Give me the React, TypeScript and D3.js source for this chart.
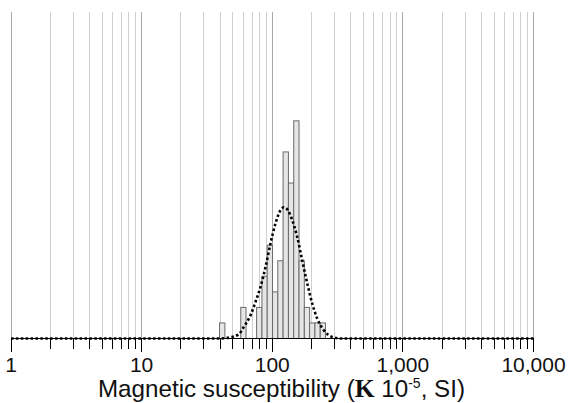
import React from "react";
import * as d3 from "d3";

// Histogram bins (bin edges in κ 10^-5 SI) and counts
const binEdges = [39.5, 43.4, 47.6, 52.3, 57.4, 63.0, 69.2, 75.9, 83.4, 91.5, 100.5, 110.3, 121.1, 133.0, 146.0, 160.3, 176.0, 193.2, 212.2, 232.9, 255.7];
const binCounts = [1, 0, 0, 0, 2, 0, 0, 2, 4, 6, 3, 5, 12, 10, 14, 5, 2, 1, 1, 1];

// Fitted (log-normal) curve
const curveX = [1, 40, 48, 55.5, 60.6, 68.2, 74.5, 81.3, 88.9, 97.0, 105.9, 115.9, 122.7, 131.5, 142.2, 155.2, 169.4, 185.4, 202.3, 220.8, 248.3, 287.7, 331, 10000];
const curveY = [0, 0, 0.08, 0.28, 0.75, 1.5, 2.36, 3.32, 4.61, 6.12, 7.4, 8.26, 8.44, 8.26, 7.62, 6.54, 5.04, 3.54, 2.25, 1.29, 0.53, 0.1, 0, 0];

const majorTicks = [1, 10, 100, 1000, 10000];
const tickLabels = ["1", "10", "100", "1,000", "10,000"];
const minorMultipliers = [2, 3, 4, 5, 6, 7, 8, 9];

const W = 572;
const H = 403;
const left = 11;
const right = 533.5;
const top = 12;
const bottom = 338.5;

export default function App() {
  const x = d3.scaleLog().domain([1, 10000]).range([left, right]);
  const y = d3.scaleLinear().domain([0, 21]).range([bottom, top]);

  const minors: number[] = [];
  majorTicks.slice(0, -1).forEach((m) => minorMultipliers.forEach((k) => minors.push(m * k)));

  const line = d3
    .line<number>()
    .x((_, i) => x(curveX[i]))
    .y((d) => y(d))
    .curve(d3.curveMonotoneX);

  const titleX = 281.5;

  return (
    <svg
      width={W}
      height={H}
      style={{ position: "absolute", left: 0, top: 0, background: "#fff" }}
      fontFamily="'Liberation Sans', Arial, sans-serif"
    >
      <rect x={0} y={0} width={W} height={H} fill="#fff" />
      {/* gridlines */}
      {minors.map((v) => (
        <line key={"g" + v} x1={x(v)} x2={x(v)} y1={top} y2={bottom} stroke="#cfcfcf" strokeWidth={1} shapeRendering="crispEdges" />
      ))}
      {majorTicks.map((v) => (
        <line key={"G" + v} x1={x(v)} x2={x(v)} y1={top} y2={bottom} stroke="#a8a8a8" strokeWidth={1} shapeRendering="crispEdges" />
      ))}
      {/* bars */}
      {binCounts.map((c, i) =>
        c > 0 ? (
          <rect
            key={"b" + i}
            x={x(binEdges[i])}
            y={y(c)}
            width={x(binEdges[i + 1]) - x(binEdges[i])}
            height={y(0) - y(c)}
            fill="#e6e6e6"
            stroke="#6a6a6a"
            strokeWidth={1}
          />
        ) : null
      )}
      {/* axis */}
      <line x1={left} x2={right} y1={bottom} y2={bottom} stroke="#000" strokeWidth={1} shapeRendering="crispEdges" />
      {minors.map((v) => (
        <line key={"t" + v} x1={x(v)} x2={x(v)} y1={bottom} y2={bottom + 10} stroke="#000" strokeWidth={1} shapeRendering="crispEdges" />
      ))}
      {majorTicks.map((v) => (
        <line key={"T" + v} x1={x(v)} x2={x(v)} y1={bottom} y2={bottom + 13} stroke="#000" strokeWidth={1} shapeRendering="crispEdges" />
      ))}
      {/* fitted curve */}
      <path d={line(curveY) || ""} fill="none" stroke="#000" strokeWidth={2.6} strokeDasharray="2.5 2.4" />
      {/* tick labels */}
      {majorTicks.map((v, i) => (
        <text key={"l" + v} x={x(v)} y={372} textAnchor="middle" fontSize={21} fill="#111">
          {tickLabels[i]}
        </text>
      ))}
      {/* axis title */}
      <text x={titleX} y={397} textAnchor="middle" fontSize={24.2} fill="#111">
        Magnetic susceptibility (
        <tspan fontFamily="'Liberation Serif', 'Times New Roman', serif" fontWeight="bold" fontSize={25.5}>Κ</tspan>
        {" 10"}
        <tspan dy={-9} fontSize={14}>-5</tspan>
        <tspan dy={9}>, SI)</tspan>
      </text>
    </svg>
  );
}
